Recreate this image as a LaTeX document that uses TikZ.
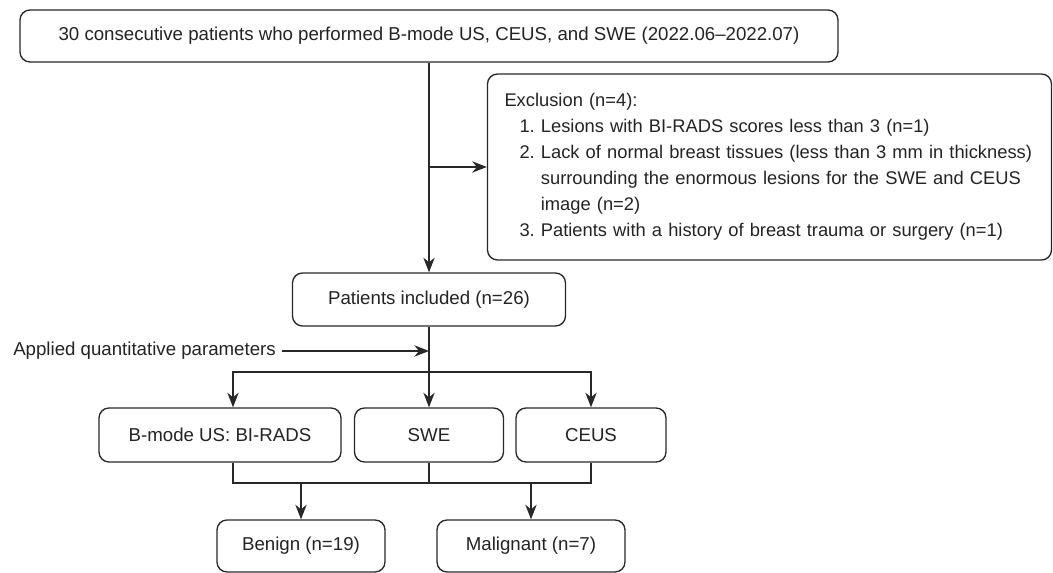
\documentclass[tikz,border=0pt]{standalone}
\usepackage{fontspec}
\setmainfont{Liberation Sans}
\usetikzlibrary{arrows.meta,positioning,calc}
\definecolor{fontgray}{RGB}{35,35,35}
\definecolor{linegray}{RGB}{40,40,40}

\begin{document}
\begin{tikzpicture}[x=0.75pt, y=-0.75pt,
	stage/.style={draw=linegray, rectangle, rounded corners=7.5pt, line width=1pt, minimum height=39.75pt, inner sep=0pt, text=fontgray, font=\fontsize{14}{16}\selectfont},
	word/.style={draw=none, rectangle, inner sep=0pt, text=fontgray, font=\fontsize{14}{16}\selectfont},
	flowLine/.style={line width=1pt, color=linegray},
	chainLine/.style={flowLine, -{Stealth[length=11pt,width=8.5pt,inset=3.5pt]}}
	]
	\useasboundingbox (0,0) rectangle (1053,573);
	\node[stage, minimum width=613.5pt, minimum height=39pt](consecutive) at (429,36) {30 consecutive patients who performed B-mode US, CEUS, and SWE (2022.06–2022.07)};
	\node[stage, minimum width=423pt, minimum height=139.5pt, text width=397.5pt, inner xsep=12.75pt, align=left, font=\fontsize{13.75}{19.5}\selectfont](exclusion) at (769.5,167) {Exclusion (n=4):\\
		\hspace*{11.25pt}1.\ Lesions with BI-RADS scores less than 3 (n=1)\\
		\hspace*{11.25pt}2.\ Lack of normal breast tissues (less than 3 mm in thickness)\\
		\hspace*{11.25pt}\phantom{2.\ }surrounding the enormous lesions for the SWE and CEUS\\
		\hspace*{11.25pt}\phantom{2.\ }image (n=2)\\
		\hspace*{11.25pt}3.\ Patients with a history of breast trauma or surgery (n=1)};
	\draw [chainLine] (consecutive.south) -- (consecutive.south |- exclusion.west) -- (exclusion.west);
	
	\node[stage, minimum width=204.75pt](included) at (429,299.5) {Patients included (n=26)};
	\draw [chainLine] (consecutive.south) -- (included.north);
	\node[word, anchor=west](applied) at (13,351) {Applied quantitative parameters};
	\draw [chainLine] ([xshift=4.5pt]applied.east) -- (applied.east -| included.south);
	
	\node[stage, minimum width=181.5pt, minimum height=40.5pt](bmode) at (220,435) {B-mode US: BI-RADS};
	\node[stage, minimum width=111.75pt, minimum height=40.5pt](swe) at (429,435) {SWE};
	\node[stage, minimum width=112.5pt, minimum height=40.5pt](ceus) at (591,435) {CEUS};
	\coordinate (split) at (429,372);
	\draw [chainLine] (included.south) -- (swe.north);
	\draw [chainLine] (split) -| ([xshift=9.75pt]bmode.north);
	\draw [chainLine] (split) -| (ceus.north);
	
	\node[stage, minimum width=126pt, minimum height=39pt](benign) at (301,546) {Benign (n=19)};
	\node[stage, minimum width=141pt, minimum height=39pt](malignant) at (531,546) {Malignant (n=7)};
	\coordinate (merge) at (429,483);
	\draw [flowLine] ([xshift=9.75pt]bmode.south) |- (merge) -| (ceus.south);
	\draw [flowLine] (swe.south) -- (merge);
	\draw [chainLine] (merge -| benign.north) -- (benign.north);
	\draw [chainLine] (merge -| malignant.north) -- (malignant.north);
\end{tikzpicture}
\end{document}
